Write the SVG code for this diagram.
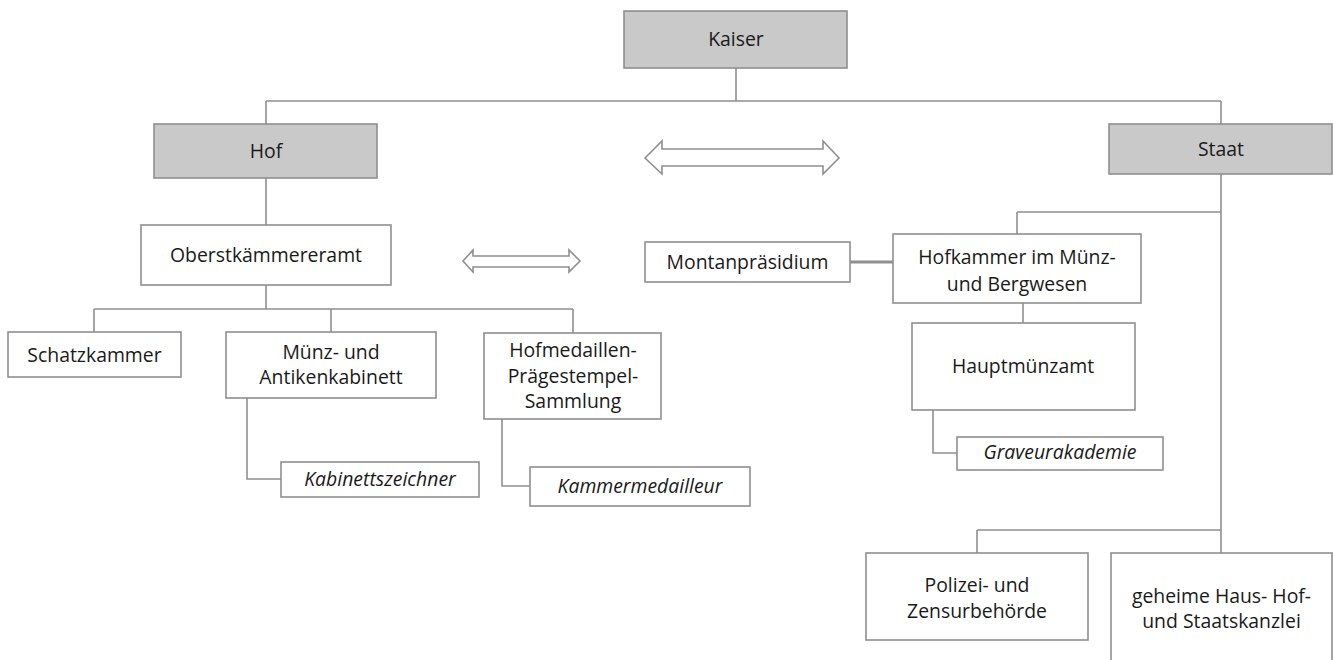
<svg xmlns="http://www.w3.org/2000/svg" width="1333" height="660" viewBox="0 0 1333 660">
<style>
.box{fill:#ffffff;stroke:#8f8f8f;stroke-width:1.6}
.gbox{fill:#c9c9c9;stroke:#8f8f8f;stroke-width:1.6}
.ln{fill:none;stroke:#8f8f8f;stroke-width:1.6}
.arr{fill:#ffffff;stroke:#8f8f8f;stroke-width:1.6;stroke-linejoin:miter}
text{font-family:"Open Sans","Liberation Sans",sans-serif;font-size:19.4px;fill:#1a1a1a;text-anchor:middle}
.it{font-style:italic}
</style>
<rect width="1333" height="660" fill="#ffffff"/>
<g id="connectors">
<path class="ln" d="M736 68V101M266 101H1221M266 101V124M1221 101V124"/>
<path class="ln" d="M266 178V225M266 285V309M94 309H573M94 309V332M331 309V332M573 309V333"/>
<path class="ln" d="M247 398V479H281M502 419V486H530"/>
<path class="ln" d="M1221 174V553M1017 212H1221M1017 212V234M1023 303V323M933 410V453H957M977 530H1221M977 530V553"/>
<path d="M850 262H893" fill="none" stroke="#8f8f8f" stroke-width="3.2"/>
</g>
<g id="arrow-big"><path class="arr" d="M645 158L662 141V149H823V141L839 158L823 174V166H662V174Z"/></g>
<g id="arrow-small"><path class="arr" d="M463 261L473 250V256H569V250L580 261L569 272V267H473V272Z"/></g>
<g id="kaiser"><rect class="gbox" x="624" y="11" width="223" height="57"/><text x="736" y="46">Kaiser</text></g>
<g id="hof"><rect class="gbox" x="154" y="124" width="223" height="54"/><text x="266" y="158">Hof</text></g>
<g id="staat"><rect class="gbox" x="1109" y="124" width="223" height="50"/><text x="1221" y="156">Staat</text></g>
<g id="oberstkaemmereramt"><rect class="box" x="141" y="225" width="250" height="60"/><text x="266" y="262">Oberstkämmereramt</text></g>
<g id="schatzkammer"><rect class="box" x="8" y="332" width="173" height="45"/><text x="94.5" y="362">Schatzkammer</text></g>
<g id="muenzkabinett"><rect class="box" x="226" y="332" width="210" height="66"/><text x="331" y="359">Münz- und</text><text x="331" y="384">Antikenkabinett</text></g>
<g id="hofmedaillen"><rect class="box" x="484" y="333" width="177" height="86"/><text x="573" y="357">Hofmedaillen-</text><text x="573" y="383">Prägestempel-</text><text x="573" y="408">Sammlung</text></g>
<g id="kabinettszeichner"><rect class="box" x="281" y="462" width="198" height="35"/><text class="it" x="380" y="486">Kabinettszeichner</text></g>
<g id="kammermedailleur"><rect class="box" x="530" y="467" width="220" height="39"/><text class="it" x="640" y="493">Kammermedailleur</text></g>
<g id="montanpraesidium"><rect class="box" x="645" y="242" width="205" height="40"/><text x="747.5" y="269">Montanpräsidium</text></g>
<g id="hofkammer"><rect class="box" x="893" y="234" width="248" height="69"/><text x="1017" y="264">Hofkammer im Münz-</text><text x="1017" y="291">und Bergwesen</text></g>
<g id="hauptmuenzamt"><rect class="box" x="912" y="323" width="223" height="87"/><text x="1023" y="373">Hauptmünzamt</text></g>
<g id="graveurakademie"><rect class="box" x="957" y="437" width="206" height="33"/><text class="it" x="1060" y="459">Graveurakademie</text></g>
<g id="polizei"><rect class="box" x="866" y="553" width="222" height="87"/><text x="977" y="592">Polizei- und</text><text x="977" y="618">Zensurbehörde</text></g>
<g id="staatskanzlei"><rect class="box" x="1111" y="553" width="221" height="120"/><text x="1221.5" y="603">geheime Haus- Hof-</text><text x="1221.5" y="628">und Staatskanzlei</text></g>
</svg>
